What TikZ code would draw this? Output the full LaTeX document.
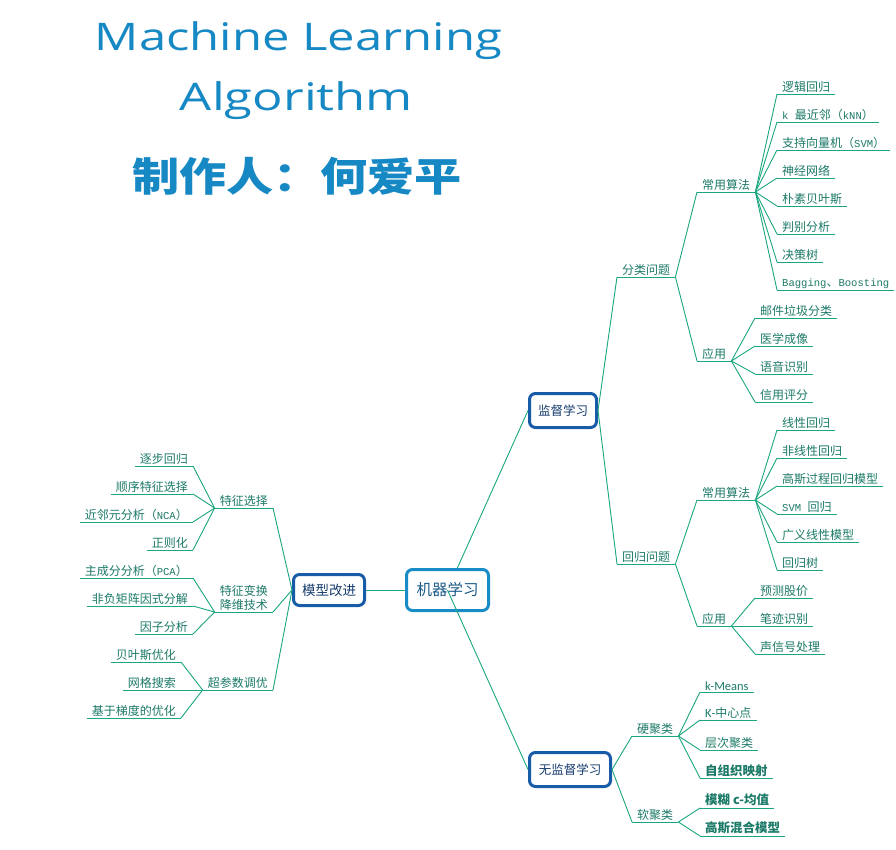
\documentclass[tikz,border=0pt]{standalone}
\usepackage{fontspec}
\usepackage{graphicx}
\setmainfont{Noto Sans CJK SC}
\newfontfamily\monof[Scale=0.88]{Liberation Mono}
\newfontfamily\calf{Carlito}
\newfontfamily\titlef{Open Sans}
\usetikzlibrary{backgrounds}
\definecolor{linec}{RGB}{26,166,128}
\definecolor{leaft}{RGB}{28,122,104}
\definecolor{boxdark}{RGB}{24,92,168}
\definecolor{boxlight}{RGB}{24,140,198}
\definecolor{boxtext}{RGB}{22,60,110}
\definecolor{roottext}{RGB}{27,90,138}
\definecolor{titlec}{RGB}{22,136,196}
\begin{document}
\begin{tikzpicture}[x=1pt,y=-1pt,
  conn/.style={draw=linec, line width=0.9pt},
  lbl/.style={inner xsep=5pt, inner ysep=1.5pt, text=leaft,
    font=\fontsize{12}{14}\selectfont,
    append after command={(\tikzlastnode.south west) edge[conn] (\tikzlastnode.south east)}},
  rt/.style={lbl, anchor=south west},
  lt/.style={lbl, anchor=south east},
  boldleaf/.style={font=\bfseries\fontsize{12.5}{14}\selectfont},
  bx/.style={draw=boxdark, line width=3pt, rounded corners=6pt, fill=white,
    text=boxtext, inner sep=0pt},
  titletext/.style={text=titlec, anchor=base, inner sep=0pt}
]
\useasboundingbox (0,0) rectangle (896,849);

% ---------- title ----------
\node[titletext, font=\titlef\fontsize{38}{40}\selectfont] (title1) at (298.5,50)
  {\resizebox{407pt}{\height}{Machine Learning}};
\node[titletext, font=\titlef\fontsize{38}{40}\selectfont] (title2) at (296.5,110)
  {\resizebox{233pt}{\height}{Algorithm}};
\node[titletext, font=\bfseries\fontsize{40}{42}\selectfont] (title3) at (297,191)
  {\resizebox{330pt}{\height}{制作人：何爱平}};

% ---------- central boxes ----------
\node[bx, draw=boxlight, minimum width=82pt, minimum height=41pt,
  font=\fontsize{15.5}{17}\selectfont, text=roottext] (root) at (447.5,590) {机器学习};
\node[bx, minimum width=67pt, minimum height=34pt,
  font=\fontsize{12.5}{14}\selectfont] (sup) at (563,410.5) {监督学习};
\node[bx, minimum width=71pt, minimum height=31pt,
  font=\fontsize{13.5}{15}\selectfont] (model) at (329,590) {模型改进};
\node[bx, minimum width=81pt, minimum height=34pt,
  font=\fontsize{12.5}{14}\selectfont] (unsup) at (570,769.5) {无监督学习};

\begin{pgfonlayer}{background}
  \fill[white] (0,0) rectangle (896,849);
  \draw[conn] (root.center) -- (sup.west);
\end{pgfonlayer}
\draw[conn] (root.center) -- (unsup.west);
\draw[conn] (model.east) -- (root.west);

% ---------- supervised: classification ----------
\node[rt] (cls) at (617,277) {分类问题};
\node[rt] (clsalg) at (697,192) {常用算法};
\node[rt] (c1) at (777,94) {逻辑回归};
\node[rt] (c2) at (777,122) {{\monof k }最近邻（{\monof kNN}）};
\node[rt] (c3) at (777,150) {支持向量机（{\monof SVM}）};
\node[rt] (c4) at (777,178) {神经网络};
\node[rt] (c5) at (777,206) {朴素贝叶斯};
\node[rt] (c6) at (777,234) {判别分析};
\node[rt] (c7) at (777,262) {决策树};
\node[rt] (c8) at (777,290) {{\monof Bagging}、{\monof Boosting}};
\node[rt] (clsapp) at (697,361) {应用};
\node[rt] (a1) at (755,318) {邮件垃圾分类};
\node[rt] (a2) at (755,346) {医学成像};
\node[rt] (a3) at (755,374) {语音识别};
\node[rt] (a4) at (755,402) {信用评分};

\draw[conn] (sup.east) -- (cls.south west);
\draw[conn] (cls.south east) -- (clsalg.south west);
\draw[conn] (cls.south east) -- (clsapp.south west);
\foreach \n in {c1,c2,c3,c4,c5,c6,c7,c8}
  \draw[conn] (clsalg.south east) -- (\n.south west);
\foreach \n in {a1,a2,a3,a4}
  \draw[conn] (clsapp.south east) -- (\n.south west);

% ---------- supervised: regression ----------
\node[rt] (reg) at (617,564) {回归问题};
\node[rt] (regalg) at (697,500) {常用算法};
\node[rt] (r1) at (777,430) {线性回归};
\node[rt] (r2) at (777,458) {非线性回归};
\node[rt] (r3) at (777,486) {高斯过程回归模型};
\node[rt] (r4) at (777,514) {{\monof SVM }回归};
\node[rt] (r5) at (777,542) {广义线性模型};
\node[rt] (r6) at (777,570) {回归树};
\node[rt] (regapp) at (697,626) {应用};
\node[rt] (b1) at (755,598) {预测股价};
\node[rt] (b2) at (755,626) {笔迹识别};
\node[rt] (b3) at (755,654) {声信号处理};

\draw[conn] (sup.east) -- (reg.south west);
\draw[conn] (reg.south east) -- (regalg.south west);
\draw[conn] (reg.south east) -- (regapp.south west);
\foreach \n in {r1,r2,r3,r4,r5,r6}
  \draw[conn] (regalg.south east) -- (\n.south west);
\foreach \n in {b1,b2,b3}
  \draw[conn] (regapp.south east) -- (\n.south west);

% ---------- unsupervised ----------
\node[rt] (hard) at (632,736) {硬聚类};
\node[rt] (h1) at (700,692) {\calf\fontsize{12.5}{14}\selectfont k-Means};
\node[rt] (h2) at (700,720) {{\calf\fontsize{12.5}{14}\selectfont K-}中心点};
\node[rt] (h3) at (700,750) {层次聚类};
\node[rt, boldleaf] (h4) at (700,778) {自组织映射};
\node[rt] (soft) at (632,822) {软聚类};
\node[rt, boldleaf] (s1) at (700,808) {模糊 c-均值};
\node[rt, boldleaf] (s2) at (700,836) {高斯混合模型};

\draw[conn] (unsup.east) -- (hard.south west);
\draw[conn] (unsup.east) -- (soft.south west);
\foreach \n in {h1,h2,h3,h4}
  \draw[conn] (hard.south east) -- (\n.south west);
\foreach \n in {s1,s2}
  \draw[conn] (soft.south east) -- (\n.south west);

% ---------- model improvement (left) ----------
\node[lt] (fs) at (273,508) {特征选择};
\node[lt] (f1) at (193,466) {逐步回归};
\node[lt] (f2) at (193,494) {顺序特征选择};
\node[lt] (f3) at (193,522) {近邻元分析（{\monof NCA}）};
\node[lt] (f4) at (193,550) {正则化};
\node[lt, align=center] (ft) at (273,612) {特征变换\\降维技术};
\node[lt] (t1) at (193,578) {主成分分析（{\monof PCA}）};
\node[lt] (t2) at (193,606) {非负矩阵因式分解};
\node[lt] (t3) at (193,634) {因子分析};
\node[lt] (hp) at (273,690) {超参数调优};
\node[lt] (p1) at (181,662) {贝叶斯优化};
\node[lt] (p2) at (181,690) {网格搜索};
\node[lt] (p3) at (181,718) {基于梯度的优化};

\draw[conn] (model.west) -- (fs.south east);
\draw[conn] (model.west) -- (ft.south east);
\draw[conn] (model.west) -- (hp.south east);
\foreach \n in {f1,f2,f3,f4}
  \draw[conn] (\n.south east) -- (fs.south west);
\foreach \n in {t1,t2,t3}
  \draw[conn] (\n.south east) -- (ft.south west);
\foreach \n in {p1,p2,p3}
  \draw[conn] (\n.south east) -- (hp.south west);
\end{tikzpicture}
\end{document}
